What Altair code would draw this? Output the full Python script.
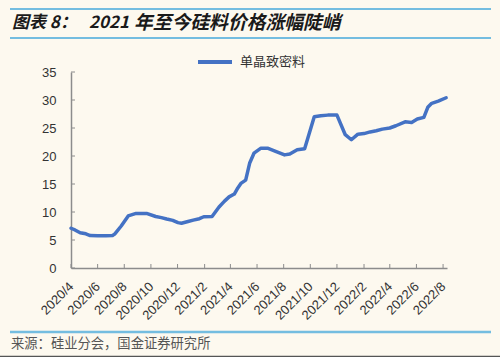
import altair as alt
import pandas as pd

# ---- data ----
dates = [
    "2020-04-01", "2020-04-10", "2020-04-22", "2020-05-05", "2020-05-15", "2020-06-01",
    "2020-06-20", "2020-07-05", "2020-07-10", "2020-07-25", "2020-08-10", "2020-08-28",
    "2020-09-21", "2020-10-12", "2020-10-25", "2020-11-06", "2020-11-20", "2020-12-02",
    "2020-12-10", "2020-12-25", "2021-01-06", "2021-01-20", "2021-01-30", "2021-02-18",
    "2021-03-06", "2021-03-18", "2021-03-29", "2021-04-10", "2021-04-18", "2021-04-25",
    "2021-05-06", "2021-05-15", "2021-05-25", "2021-06-10", "2021-06-25", "2021-07-15",
    "2021-08-03", "2021-08-15", "2021-09-01", "2021-09-18", "2021-10-10", "2021-10-25",
    "2021-11-10", "2021-12-01", "2021-12-20", "2022-01-03", "2022-01-18", "2022-02-01",
    "2022-02-15", "2022-03-01", "2022-03-15", "2022-04-01", "2022-04-15", "2022-05-06",
    "2022-05-21", "2022-06-03", "2022-06-18", "2022-06-27", "2022-07-06", "2022-07-21",
    "2022-08-08",
]
values = [
    7.1, 6.8, 6.3, 6.1, 5.8, 5.75,
    5.75, 5.8, 6.05, 7.5, 9.3, 9.75,
    9.75, 9.2, 9.0, 8.75, 8.5, 8.1,
    8.0, 8.3, 8.55, 8.8, 9.15, 9.2,
    10.9, 11.9, 12.7, 13.2, 14.3, 15.1,
    15.7, 18.7, 20.5, 21.4, 21.4, 20.8,
    20.2, 20.35, 21.1, 21.3, 27.0, 27.2,
    27.3, 27.3, 23.8, 22.9, 23.9, 24.0,
    24.3, 24.5, 24.8, 25.0, 25.4, 26.1,
    26.0, 26.6, 26.9, 28.7, 29.4, 29.8,
    30.4,
]
series_name = "单晶致密料"
tick_dates = [
    "2020-04-01", "2020-06-01", "2020-08-01", "2020-10-01", "2020-12-01",
    "2021-02-01", "2021-04-01", "2021-06-01", "2021-08-01", "2021-10-01",
    "2021-12-01", "2022-02-01", "2022-04-01", "2022-06-01", "2022-08-01",
]
y_ticks = [0, 5, 10, 15, 20, 25, 30, 35]
title_parts = ["图表 8：", "2021", "年至今硅料价格涨幅陡峭"]
source_text = "来源：硅业分会，国金证券研究所"

# ---- styling ----
W, H = 376, 196
BG = "#fdf9ef"
BLUE = "#4472c4"
RULE_BLUE = "#74bde0"
CJK = "Noto Sans CJK SC"
LAT = "Liberation Sans"

df = pd.DataFrame({"date": dates, "value": values, "series": series_name})
ticks_df = pd.DataFrame({"date": tick_dates})
yt_df = pd.DataFrame({"v": y_ticks})
one = pd.DataFrame({"k": [0]})


def dt(s):
    y, m, d = [int(p) for p in s.split("-")]
    return alt.DateTime(year=y, month=m, date=d, utc=True)


xscale = alt.Scale(type="utc", domain=[dt("2020-04-01"), dt("2022-08-10")])
yscale = alt.Scale(domain=[0, 35])

xaxis = alt.Axis(values=[dt(s) for s in tick_dates],
                 labelExpr="utcFormat(datum.value, '%Y/%-m')",
                 labelAngle=-45, labelAlign="right", labelBaseline="middle",
                 labelPadding=16, tickSize=0, grid=False,
                 labelOverlap=False, labelBound=False, labelFlush=False,
                 domainColor="#8c8c8c", domainWidth=1.5,
                 labelFont=LAT, labelFontSize=13, labelColor="#333333")
yaxis = alt.Axis(values=y_ticks, tickSize=0, grid=False, labelPadding=15,
                 labelOverlap=False, labelBound=False, labelFlush=False,
                 domainColor="#8c8c8c", domainWidth=1.5,
                 labelFont=LAT, labelFontSize=13, labelColor="#333333")

line = alt.Chart(df).mark_line(strokeWidth=3.5, strokeCap="round", strokeJoin="round").encode(
    x=alt.X("date:T", scale=xscale, title=None, axis=xaxis),
    y=alt.Y("value:Q", scale=yscale, title=None, axis=yaxis),
    color=alt.Color("series:N", scale=alt.Scale(range=[BLUE]), title=None,
                    legend=alt.Legend(orient="none", legendX=125, legendY=-29,
                                      symbolType="stroke", symbolSize=1156,
                                      symbolStrokeWidth=4, labelFont=CJK,
                                      labelFontSize=13, labelColor="#333333",
                                      labelOffset=6)),
)

xticks = alt.Chart(ticks_df).mark_rule(color="#8c8c8c", strokeWidth=1).encode(
    x=alt.X("date:T", scale=xscale, title=None, axis=xaxis),
    y=alt.value(H), y2=alt.value(H - 4))
yticks = alt.Chart(yt_df).mark_rule(color="#8c8c8c", strokeWidth=1).encode(
    y=alt.Y("v:Q", scale=yscale, title=None, axis=yaxis),
    x=alt.value(0), x2=alt.value(4))


def hrule(y, x1, x2, color, w):
    return alt.Chart(one).mark_rule(color=color, strokeWidth=w).encode(
        x=alt.value(x1), x2=alt.value(x2), y=alt.value(y))


r_top = hrule(-63, -61, 420, RULE_BLUE, 2)
r_mid = hrule(-34, -61, 420, RULE_BLUE, 2)
r_src = hrule(260, -61, 420, RULE_BLUE, 2.5)
r_bot = hrule(284.5, -71, 429, "#555555", 1.5)


def ttext(txt, x, size):
    return alt.Chart(one).mark_text(text=txt, align="left", baseline="middle",
                                    font=CJK, fontSize=size, fontWeight="bold",
                                    fontStyle="italic", color="#1a1a1a").encode(
        x=alt.value(x), y=alt.value(-49.5))


t1 = ttext(title_parts[0], -59, 17)
t2 = ttext(title_parts[1], 18, 17)
t3 = ttext(title_parts[2], 63, 18.8)

source = alt.Chart(one).mark_text(text=source_text, align="left", baseline="middle",
                                  font=CJK, fontSize=13.3, color="#555555").encode(
    x=alt.value(-60), y=alt.value(272))

chart = alt.layer(line, xticks, yticks, r_top, r_mid, r_src, r_bot, t1, t2, t3, source).properties(
    width=W, height=H,
    autosize=alt.AutoSizeParams(type="none"),
    padding={"left": 71, "top": 72, "right": 500 - 71 - W, "bottom": 357 - 72 - H},
    background=BG,
).configure_view(stroke=None)

chart.save("out.html", embed_options={"renderer": "svg", "actions": False})
